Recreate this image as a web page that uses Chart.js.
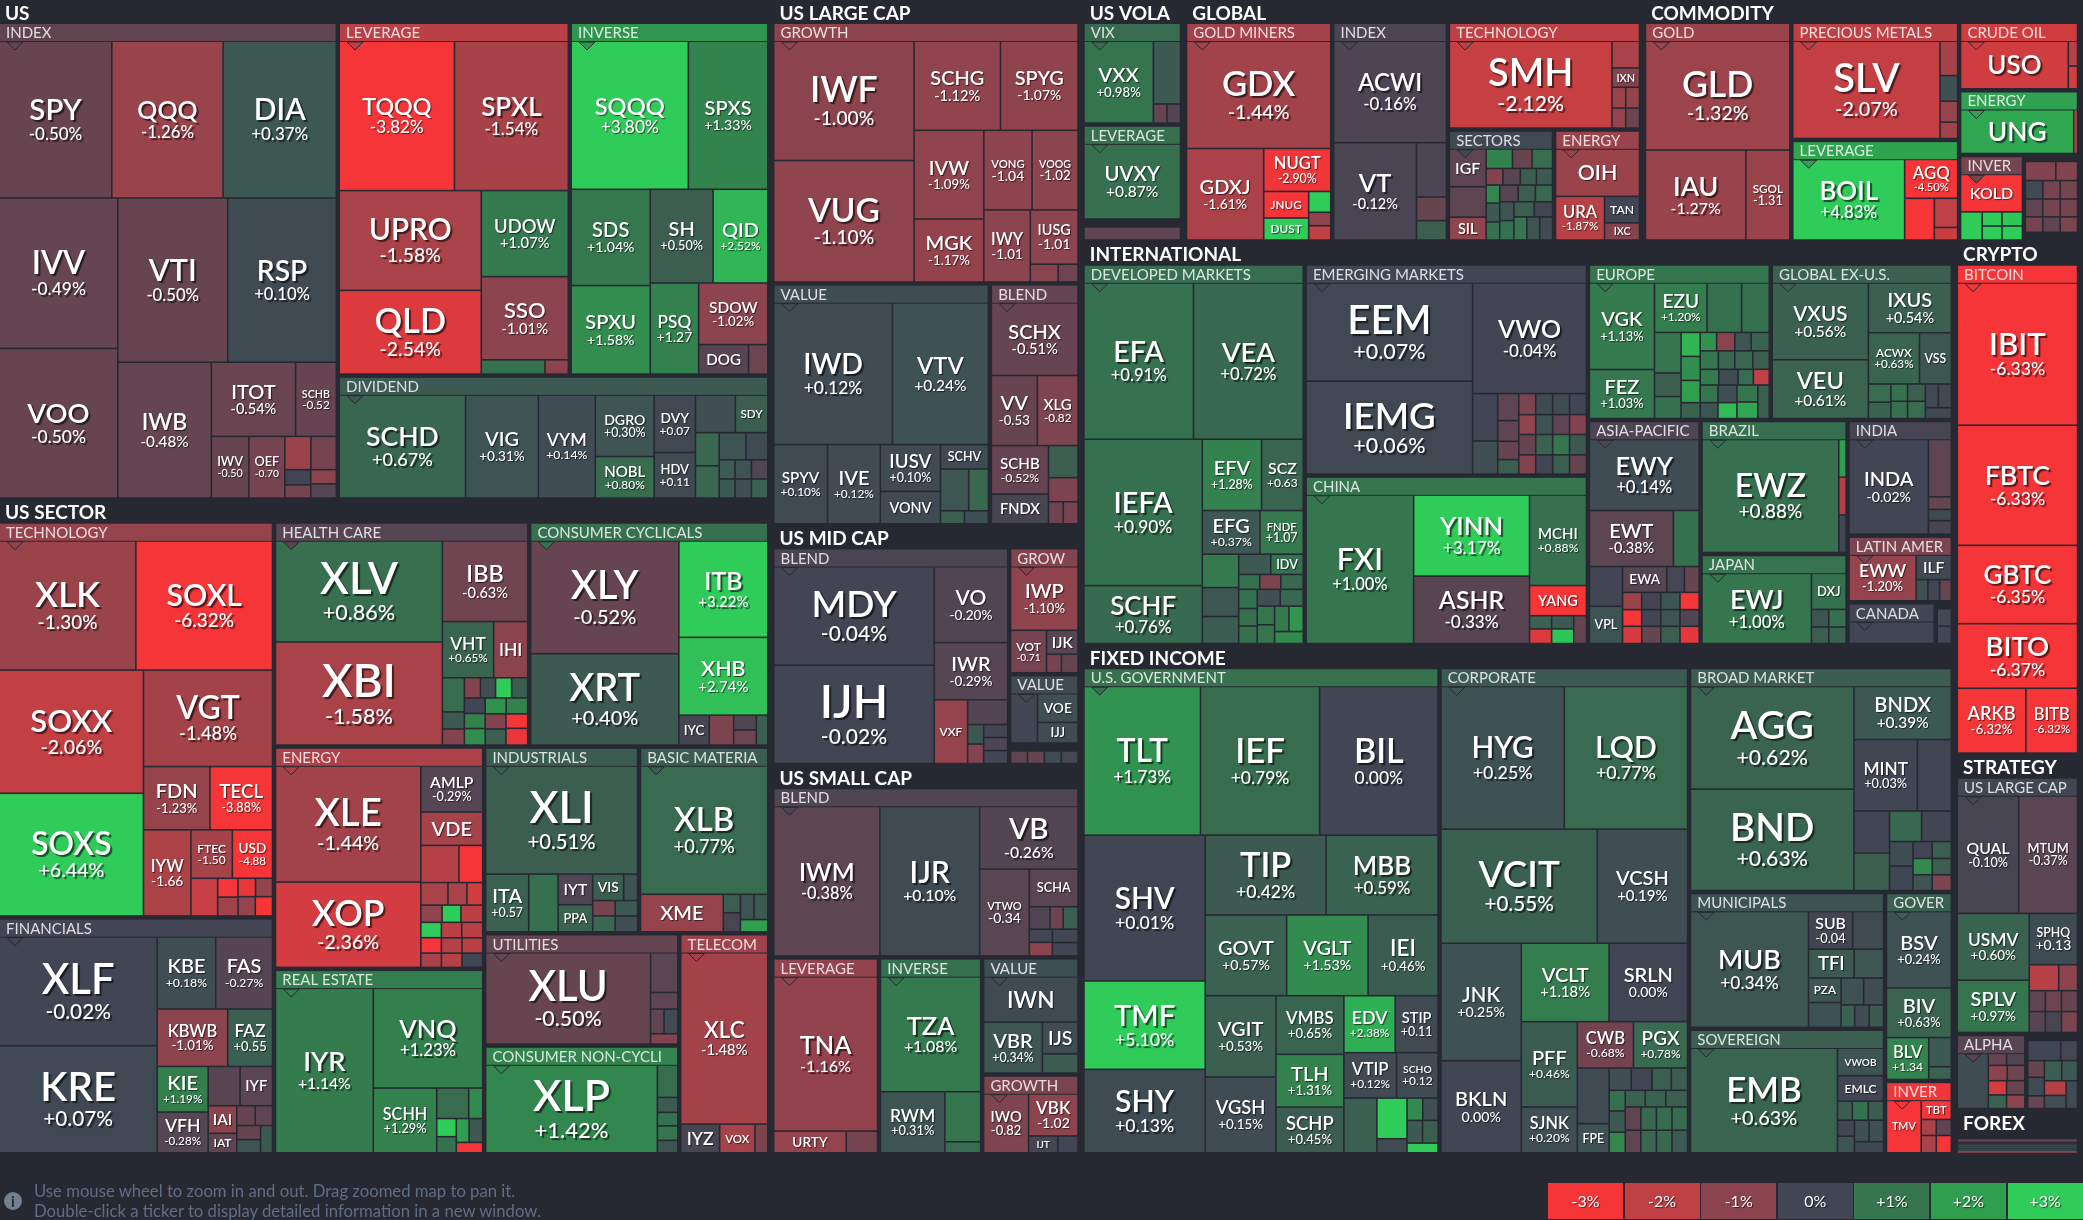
<!DOCTYPE html>
<html>
<head>
<meta charset="utf-8">
<title>ETF map</title>
<style>
  html, body { margin: 0; padding: 0; background: #262931; overflow: hidden; }
  #wrap { position: relative; width: 2083px; height: 1220px; font-family: Lato, sans-serif; }
  #myChart { position: absolute; left: 0; top: 0; }
  #note { position: absolute; left: 34px; top: 1181px; color: #5f6d87; font-size: 16.7px; line-height: 20px; white-space: nowrap; }
  #noteIcon { position: absolute; left: 4px; top: 1192px; width: 18px; height: 18px; border-radius: 50%; background: #74808f; color: #262931; font: bold 15px/18px Lato, sans-serif; text-align: center; }
  #legend { position: absolute; left: 1548px; top: 1183px; display: flex; gap: 1.6px; }
  #legend div { width: 75px; height: 36px; line-height: 36px; text-align: center; color: #fff; font-size: 16px; text-shadow: 1px 1px 1px rgba(0,0,0,.6); }
</style>
</head>
<body>
<div id="wrap">
  <canvas id="myChart" width="2083" height="1220"></canvas>
  <div id="noteIcon">i</div>
  <div id="note">Use mouse wheel to zoom in and out. Drag zoomed map to pan it.<br>Double-click a ticker to display detailed information in a new window.</div>
  <div id="legend"></div>
</div>
<script src="https://cdn.jsdelivr.net/npm/chart.js@4"></script>
<script>
const sectorNames = ["US", "US SECTOR", "US LARGE CAP", "US MID CAP", "US SMALL CAP", "US VOLA", "GLOBAL", "COMMODITY", "INTERNATIONAL", "FIXED INCOME", "CRYPTO", "STRATEGY", "FOREX"];
const sectorWeights = [3870.6, 5071, 1630.4, 743.8, 1207.6, 247.8, 1109.6, 1058.9, 3523.8, 4447.3, 647.4, 448.6, 55.8];
// a positive run is laid out as a row across the top, a negative one as a column at the left
const sectorRuns = [-2, -3, 3, -2, 1, 1, 1];

const sectorGroupRuns = [
  [-1, 2, 1],
  [-2, 2, -2, 2, -2, 1],
  [1, 2],
  [-1, 1, 1, 1],
  [1, -1, -1, 1, 1],
  [1, 1, 1],
  [-1, -1, 1, 2],
  [-1, -2, 1, 1, -1, -1],
  [-1, -2, 2, -1, -2, 1, 1, -1, -1],
  [-1, -1, 1, -2, 1, 1],
  [1],
  [1, -1, -1],
  [1]
];

const groupNames = [
  "INDEX", "LEVERAGE", "INVERSE", "DIVIDEND",
  "TECHNOLOGY", "FINANCIALS", "HEALTH CARE", "CONSUMER CYCLICALS", "ENERGY", "REAL ESTATE", "INDUSTRIALS", "BASIC MATERIA", "UTILITIES", "CONSUMER NON-CYCLI", "TELECOM",
  "GROWTH", "VALUE", "BLEND",
  "BLEND", "GROW", "VALUE", "",
  "BLEND", "LEVERAGE", "INVERSE", "VALUE", "GROWTH",
  "VIX", "LEVERAGE", "",
  "GOLD MINERS", "INDEX", "TECHNOLOGY", "SECTORS", "ENERGY",
  "GOLD", "PRECIOUS METALS", "LEVERAGE", "CRUDE OIL", "ENERGY", "INVER", "",
  "DEVELOPED MARKETS", "EMERGING MARKETS", "CHINA", "EUROPE", "GLOBAL EX-U.S.", "ASIA-PACIFIC", "BRAZIL", "JAPAN", "INDIA", "LATIN AMER", "CANADA", "",
  "U.S. GOVERNMENT", "CORPORATE", "BROAD MARKET", "MUNICIPALS", "SOVEREIGN", "GOVER", "INVER",
  "BITCOIN",
  "US LARGE CAP", "ALPHA", "",
  ""
];
const groupWeights = [
  1625, 821, 706, 535,
  1093, 654, 574, 540, 467, 389.5, 289, 243, 219, 212, 198.7,
  805, 527, 217,
  518, 89.7, 49.7, 14.5,
  524.6, 210.6, 203.5, 114.3, 77.8,
  102.8, 95.9, 21.05,
  323.6, 254.4, 208.3, 118.9, 97.4,
  323.4, 198.1, 170.2, 82, 77.5, 56, 47.6,
  847.9, 600.8, 480, 286.2, 285, 253.6, 197, 133.8, 121.7, 70.2, 37.7, 7.3,
  1743, 1218, 594.8, 268.5, 246.5, 128.3, 49.8,
  1,
  317, 53.6, 40.1,
  1
];

const leafRuns = [
  [3, -2, 2, -1, 2, -1, -1, 2, -2, 1, 1],
  [2, -2, 1, 1, -1, -1],
  [2, -2, 2, -1, 1, -1, -1],
  [-1, -1, -1, -2, -2, 2, -2, 2, -2, 2, -1, -1],
  [2, -2, 1, 2, -1, 2, -1, -2, 2, -1, -1],
  [-2, 2, 2, -2, 2, -2, 2, -2, -1],
  [-2, 1, 2, -3, 4, -3, 2, -2, 1, 1],
  [-2, 1, 1, -1, -1, -2, -1],
  [-2, 1, 1, 2, 3, 3, -3, 2, -2, 1, 1],
  [-1, 1, -1, 2, -2, 2, 1],
  [1, -1, -1, -2, 2, -2, 1, 1],
  [1, -1, -2, 2, 1],
  [-1, 1, 1, 2, 1],
  [-1, 1, 1, 1, 1, 1],
  [1, -1, -1, -1],
  [-2, 2, -2, 2, -1, 1, -1, -1],
  [2, -1, -1, -2, 1, 2, -1, -1],
  [1, 2, -2, 1, 1, -1, -1],
  [-2, 1, 1, -1, 1, -2, 1, 1, 1],
  [1, -1, 1, -1, -1],
  [-1, 1, 1],
  [-1, -1, -1, -1],
  [-1, -1, 1, -1, 1, 3, -2, -2],
  [1, -1, -1],
  [1, -1, 1, 1],
  [1, -1, 1, 1],
  [-1, 1, -1, -1],
  [-1, 1, -1, -1],
  [1],
  [1],
  [1, -1, 1, -2, 1, 1, 1],
  [1, -1, 1, 1, 1],
  [-1, 1, 1, 2, 2],
  [-3, 3, 4, -3, 3, -2, 2, -1, -1, -1],
  [1, -1, 1, 1],
  [1, -1, -1],
  [-1, 1, 1, 1, 1],
  [-1, 1, -1, 1, 1],
  [-1, 1, 1],
  [-1, -1],
  [1, -1, -2, 1, 1],
  [2, 3, 3, 3, 1],
  [2, -2, 2, 2, -3, 2, 3, -3, 2, -2, 2, 1],
  [-2, 1, -2, -4, 4, 4, 4, 4],
  [-1, -2, 1, 1, -2, -2, 1],
  [-2, 3, -3, -4, 4, 4, 4, -2, -2, -2, 1],
  [-2, 1, 2, -2, -2, -2, 2, 1],
  [1, 2, -2, 3, -3, -3, -3, -3],
  [-1, 1, 1, 1],
  [-1, 1, -2, 1, 1],
  [-1, 1, 1, 1, 1],
  [-1, 1, -1, -1, 1],
  [1],
  [1, 1],
  [3, -3, 2, 3, -2, -3, 2, 2, -1, -2, 2, 2, 1],
  [2, 2, -2, 2, -2, 2, -2, 4, -3, 3, -2, -2, -2, -2],
  [-2, 1, 2, -2, 2, -2, -3, -3],
  [-1, 2, 2, -2, 2, -1, -1, -1],
  [-1, 1, 1, 3, -2, 2, 1],
  [1, 1, -1, 1, 1],
  [-1, 1, -2, 1, 1],
  [1, 1, 1, 1, 2],
  [2, -2, 1, 2, 3, 3],
  [-1, 2, 2, 2, 2],
  [2, -3, 2, -2, 1],
  [-13]
];

// one line per group, same order in all three lists; "" is a cell too small to carry a ticker
const tickers = [
  "SPY","QQQ","DIA","IVV","VOO","VTI","RSP","IWB","ITOT","SCHB","IWV","OEF", "","","","","","",
  "TQQQ","SPXL","UPRO","QLD","UDOW","SSO", "","",
  "SQQQ","SPXS","SDS","SPXU","SH","QID","PSQ","SDOW","DOG", "",
  "SCHD","VIG","VYM","DGRO","NOBL","DVY","HDV", "","SDY", "","","","", "","","","", "","",
  "XLK","SOXL","SOXX","SOXS","VGT","FDN","TECL","IYW","FTEC","USD", "","","","", "","","",
  "XLF","KRE","KBE","FAS","KBWB","FAZ","KIE","VFH", "","IYF","IAI","IAT", "","","","","",
  "XLV","XBI","IBB","VHT","IHI", "","","","", "","","","", "","","","", "","","","",
  "XLY","XRT","ITB","XHB","IYC", "","","","",
  "XLE","XOP","AMLP","VDE", "","","","", "","","","", "","","","", "","","","", "",
  "IYR","VNQ","SCHH", "","","","", "","","",
  "XLI","ITA", "","IYT","PPA","VIS", "","","","","",
  "XLB","XME", "","","","","",
  "XLU", "","","","","",
  "XLP", "","","","","",
  "XLC","IYZ","VOX", "",
  "IWF","VUG","SCHG","SPYG","IVW","MGK","VONG","VOOG","IWY","IUSG", "","",
  "IWD","VTV","SPYV","IVE","IUSV","VONV","SCHV", "","","","",
  "SCHX","VV","XLG","SCHB","FNDX", "","","","",
  "MDY","IJH","VO","IWR","VXF", "","","", "","","",
  "IWP","VOT","IJK", "","",
  "","VOE","IJJ",
  "","","","",
  "IWM","IJR","VB","VTWO","SCHA", "","","","", "","","",
  "TNA","URTY", "",
  "TZA","RWM", "","",
  "IWN","VBR","IJS", "",
  "IWO","VBK","IJT", "",
  "VXX", "","","",
  "UVXY",
  "",
  "GDX","GDXJ","NUGT","JNUG","DUST", "","","",
  "ACWI","VT", "","","",
  "SMH", "","IXN", "","","","",
  "IGF","","SIL", "","","","", "","","","", "","","","", "","","","", "","","","",
  "OIH","URA","TAN","IXC",
  "GLD","IAU","SGOL",
  "SLV", "","","","",
  "BOIL","AGQ", "","","",
  "USO", "","",
  "UNG", "",
  "KOLD", "","","","","",
  "","","","", "","","","", "","","","",
  "EFA","VEA","IEFA","SCHF","EFV","SCZ","EFG","FNDF", "","","","","IDV", "","","","", "","","","", "","","","", "",
  "EEM","IEMG","VWO", "","","","", "","","","", "","","","", "","","","", "","","","", "","",
  "FXI","YINN","ASHR","MCHI","YANG", "","","","","",
  "VGK","FEZ","EZU", "","","","", "","","","", "","","","", "","","","", "","","","", "","","","", "","","","",
  "VXUS","VEU","IXUS","ACWX","VSS", "","","","", "","","","", "",
  "EWY","EWT", "","","VPL","EWA", "","","","", "","","","", "","","","", "","",
  "EWZ", "","","",
  "EWJ","DXJ", "","","","",
  "INDA", "","","","",
  "EWW","ILF", "","","",
  "",
  "","",
  "TLT","IEF","BIL","SHV","TMF","SHY","TIP","MBB","GOVT","VGLT","IEI","VGIT","VGSH","VMBS","TLH","SCHP","EDV","STIP","VTIP","SCHO", "","","","", "","","","",
  "HYG","LQD","VCIT","VCSH","JNK","BKLN","VCLT","SRLN","PFF","SJNK","CWB","PGX", "","FPE", "","","","", "","","","", "","","","", "","","","", "","",
  "AGG","BND","BNDX","MINT", "","","","", "","","","", "","","","", "",
  "MUB","SUB", "","TFI", "","PZA", "","","", "","","",
  "EMB","VWOB","EMLC", "","","","", "","","","",
  "BSV","BIV","BLV", "","",
  "TMV","TBT", "","","","",
  "IBIT","FBTC","GBTC","BITO","ARKB","BITB",
  "QUAL","MTUM","USMV","SPLV","SPHQ", "","","","", "","","","",
  "","","", "","","", "","","",
  "","","","", "","","","", "","",
  "","","","", "","","","", "","","","", ""
];
// daily change in percent; null leaves an empty gap in the map
const changes = [
  -0.50,-1.26,0.37,-0.49,-0.50,-0.50,0.10,-0.48,-0.54,-0.52,-0.50,-0.70,-1.3,-0.7,0,-0.7,-1.0,-0.3,
  -3.82,-1.54,-1.58,-2.54,1.07,-1.01,0.9,-1.0,
  3.80,1.33,1.04,1.58,0.50,2.52,1.27,-1.02,-0.3,-0.6,
  0.67,0.31,0.14,0.30,0.80,0.07,0.11,0.2,0.5,0.7,0.7,0.3,0.1,0.45,0.4,0.3,-0.2,0.2,0.6,
  -1.30,-6.32,-2.06,6.44,-1.48,-1.23,-3.88,-1.66,-1.50,-4.88,-2.1,-3.5,-1.4,-2.8,-1.2,-1.2,-3,
  -0.02,0.07,0.18,-0.27,-1.01,0.55,1.19,-0.28,-0.3,-0.35,-1.0,-0.4,-0.5,-0.4,-0.5,0.3,0.4,
  0.86,-1.58,-0.63,0.65,-1.0,0.8,0.4,-0.9,-0.9,0.2,3.0,0.5,0,1.3,1.6,1.7,1.3,-0.9,0.5,-3.5,-2.8,
  -0.52,0.40,3.22,2.74,-0.1,-0.8,-0.2,-0.6,0.5,
  -1.44,-2.36,-0.29,-1.5,-1.8,-3.5,-1.6,-1.6,-2.3,-1.1,3.0,-1.9,3.2,-3.5,-1.6,-1.9,-1.9,-1.8,-1.8,-1.9,0,
  1.14,1.23,1.29,0.8,1.5,3.2,0.9,2.0,0.4,-3.5,
  0.51,0.57,0.9,-0.2,0.6,0.5,0.3,-0.7,0.7,0.4,0.2,
  0.77,-1.2,0.5,-0.1,0.3,0.4,2.0,
  -0.50,-0.35,-0.4,-0.4,0.1,-0.9,
  1.42,0.8,0.4,0.9,1.0,0.3,
  -1.48,-0.1,-1.5,-0.8,
  -1.00,-1.10,-1.12,-1.07,-1.09,-1.17,-1.04,-1.02,-1.01,-1.01,-0.95,-0.6,
  0.12,0.24,0.10,0.12,0.10,0.1,0.1,0.35,0.7,0.5,0.2,
  -0.51,-0.53,-0.82,-0.52,-0.1,0.5,-0.8,-0.6,-0.7,
  -0.04,-0.02,-0.20,-0.29,-1.2,-0.25,0.35,-0.9,0,-0.2,0,
  -1.10,-0.71,-0.3,-0.7,-0.5,
  0,0.2,0.15,
  -0.4,-0.5,0.1,-0.05,
  -0.38,0.10,-0.26,-0.34,-0.35,-0.2,-0.6,0.5,0,-1,0,0,
  -1.16,-1.2,-0.7,
  1.08,0.31,1.0,0.8,
  0.1,0.34,0.15,0.45,
  -0.82,-1.02,-0.05,0,
  0.98,0.4,-0.5,-0.25,
  0.87,
  -0.4,
  -1.44,-1.61,-2.90,-3.2,3.3,3.1,-1.1,-2,
  -0.16,-0.12,-0.15,-0.5,0.5,
  -2.12,-1.6,-0.9,-1.3,-1.2,-1.2,-0.6,
  -0.4,-0.4,-1.1,1.3,-0.5,0.8,-0.9,-0.3,0.5,0.4,1.4,0.4,0.9,-0.3,0.5,0.7,0.3,0.9,0.5,0,1.0,0.3,0.1,
  -1.3,-1.87,0,-0.9,
  -1.32,-1.27,-1.31,
  -2.07,-1.5,0.2,-1.2,-1.4,
  4.83,-4.50,-3.5,-2.0,-2.2,
  -2.3,-1.9,-2.4,
  2.2,-2,
  -3.5,3.1,3.2,3.0,2.9,3.0,
  -0.9,-0.9,0.1,-0.7,-0.7,-0.4,-0.7,-0.7,-0.7,-0.4,-0.8,null,
  0.91,0.72,0.90,0.76,1.28,0.63,0.37,1.07,1.1,0.35,0.45,0.4,0.9,0.9,-0.8,0.7,0.9,0.85,0.9,0.2,0.7,1.0,1.0,1.1,1.8,1.5,
  0.07,0.06,-0.04,0,0.2,-0.4,-0.4,-0.5,0.5,-0.8,0.1,0.15,0,-1.1,0.3,-0.4,-0.9,-0.5,0.6,1.0,0.4,-0.9,0,0.5,-0.5,
  1.00,3.17,-0.33,0.88,-3.4,0.6,-2.5,0.4,2.9,-0.5,
  1.13,1.03,1.20,0.9,0.9,1.0,0.5,0.9,2.5,1.6,2.0,0.6,1.7,-1.0,0.3,0.6,1.0,0.7,0.7,0.5,1.1,0.1,0.8,-2.0,1.0,0.3,0.2,2.6,1.0,2.2,0.5,
  0.56,0.61,0.54,0.63,0.35,0.8,0.6,0.9,0.9,0.5,0.8,0.1,0.1,0.1,
  0.14,-0.38,0.9,0,0.3,-0.3,-0.05,-0.5,-1.3,-3.3,-2.4,0,0,-0.5,0.3,0.3,0.5,-3.2,-0.2,-2.7,
  0.88,2.0,-1.8,0,
  1.00,0.9,0.3,0.5,0.9,0.6,
  -0.02,-0.4,-0.5,0.1,-0.1,
  -1.20,0.1,0.2,0,-0.5,
  -0.02,
  0.1,0,
  1.73,0.79,0,0.01,5.10,0.13,0.42,0.59,0.57,1.53,0.46,0.53,0.15,0.65,1.31,0.45,2.38,0.11,0.12,0.12,0.55,3.0,0.1,1.5,0.2,0.4,0.5,3.1,
  0.25,0.77,0.55,0.19,0.25,0,1.18,0,0.46,0.20,-0.68,0.78,0.1,0.25,0.2,0,0.5,0.5,0.9,0.4,1.4,0.6,0.6,0.5,-0.4,-0.4,0.7,0.7,0.8,0.7,0.8,0.4,
  0.62,0.63,0.39,0.03,0,0,0.5,0.7,0,0.15,0.05,0,1.5,0.3,0.5,0.5,-0.8,
  0.34,-0.04,0.1,0.4,0.35,0.35,0.25,0.25,0.15,0.6,0.15,0.4,
  0.63,0.3,0,0.45,0.9,0.45,0,0.3,0.2,0.2,0.05,
  0.24,0.63,1.34,0.4,0.6,
  -3.4,-3.3,-1.6,-1.6,-0.4,-3.5,
  -6.33,-6.33,-6.35,-6.37,-6.32,-6.32,
  -0.10,-0.37,0.60,0.97,0.13,-1.8,-1,-0.4,-0.6,-0.5,-0.3,-0.1,-0.8,
  0.15,-0.5,-0.2,-1,-0.6,-2.4,-0.5,0.6,-1,
  0.05,-0.05,-0.5,0.1,-0.5,0.5,0.4,-1.8,0.2,0.1,
  -0.6,-0.5,0.2,null,0.3,0.3,-0.4,0,0.3,0.2,null,-2,-1.2
];
// share of its group that each fund takes on the map
const weights = [
  175,173,176,177,176,179,177,126,62,30,23,22,8.6,8.4,3.9,3.4,3.6,3.6,
  170,168,140,117.5,74,71.5,9,3.3,
  171,116,75,69,58,50.6,43.5,42,14.5,5.6,
  129,74.2,58.2,35.9,24.2,23.5,18.6,14.9,12.1,7.8,7.6,7.2,5.9,3,3,3.1,3.1,3.1,3.1,
  175,175,176.4,175.5,123.5,41.7,39.3,40.5,19.9,19.3,10,3.8,3.8,3.2,3.1,3.3,3.3,
  169.8,167,41.7,40.5,40,25.4,23,20.5,12.4,12.6,7.8,5.5,3.6,3.4,3.3,3.1,3.2,
  166.4,169.9,67.9,28.4,18.9,7.4,3.7,3.5,3.2,3,3.2,3.2,3.2,3.1,3.4,3.3,3.4,3.1,3.3,3.1,3.6,
  165.4,134,84.8,68.5,9,7.2,3.3,3.4,3.4,
  166,122,28,20.3,13.9,8.7,6,4.2,3.5,3.6,3.2,3.7,3.1,3.1,2.9,3.1,3.2,3.1,2.9,3.1,2.9,
  158.4,107.4,40.4,9.6,4.2,3.5,3.1,3,3.2,2.7,
  161.3,24.4,16.6,10.4,9.2,8,3.6,3.4,3.5,3.4,3.5,
  160.4,30.5,3.1,3.2,3.4,3.4,3.3,
  149.9,10.8,4.5,3.3,3.4,2.8,
  147.6,6.5,3,2.7,2.9,2.5,
  145.5,10.9,9.9,3.6,
  166,169,76.3,68.5,61.3,43.5,38,36.3,33.2,25.7,4.9,3.5,
  166.7,134.8,42.2,41.6,27.9,19.3,11.6,11.7,8.2,3.1,3.1,
  61.8,31.7,28.1,27.2,16.7,9.3,7,3.2,3.2,
  156.5,156.5,55.2,41.6,21.1,9.8,3.1,3.1,3.1,3.1,3.1,
  41.9,14.9,7.4,2.7,3,
  13,11.4,8.2,
  1.9,1.9,1.9,1.9,
  156.8,147.3,60.9,42.6,18.1,4.6,2.9,3.3,3,3.1,3.4,3.4,
  158,15.5,6.7,
  113.9,38.9,17.7,3.9,
  41.9,29.3,11.1,6.7,
  26.4,20.7,4.9,3.4,
  54.6,16.4,2.5,2.5,
  1,
  1,
  151.7,69.3,28.2,11.7,9.7,4.5,2.9,3.1,
  112,79,15.9,6.9,5.7,
  138,7.2,5.2,2.8,2.8,2.7,2.7,
  13.5,10.9,8.2,5,3.7,3.9,2.7,2.8,2.6,2.6,2.4,2.5,2.4,3,2.8,2.8,2.6,2.7,3,2.7,2.9,2.9,2.9,
  39,21,9.1,5.9,
  154,88.6,38.8,
  139,5.9,4.4,3.6,2.8,
  88.8,20.3,12.2,6.7,2.9,
  48.9,2.2,2,
  47.6,1.6,
  22.5,5.9,2.7,2.7,2.8,2.8,
  5.6,4,3.1,3.1,3.1,3,3,3,2.6,2.6,2.6,3.85,
  168.8,169.3,170.9,67.7,41.7,29.3,24.9,18.6,12,10.4,9.7,6.4,6.5,3.1,3.1,3.3,3.5,3.2,3.2,3.8,3.8,3.2,3.2,3.6,3.6,3.4,
  160.8,152.1,123.9,11.7,8.2,5.6,4.3,3.8,3,3.5,3.5,3.5,3.5,3.3,3.3,3.3,3.3,3.4,3.4,3.4,3.4,3.2,3.2,3.2,3.2,
  158,93,77.3,51,17,2.9,3.2,2.9,3.2,3.5,
  54,30.6,24.9,16.4,13.1,10.3,6,5.6,4.4,4.4,4.1,2.9,2.9,3.2,2.9,3.2,3.2,2.9,3.2,2.9,2.8,2.9,2.3,2.4,3,2.7,3.2,2.9,3.4,3.3,3.7,
  71.9,55.1,40.3,25.5,15.9,4,3.6,2.8,2.8,3,3,3,3,2.75,
  75.6,45.7,14,12.8,12,11.1,4.4,3.7,3.2,3.1,3.2,3.2,3.1,3.2,3.2,3.1,3.2,3.2,3.1,3.2,
  151,2.7,2.7,2.7,
  75.2,12.2,3,2.8,3,2.8,
  73.1,12.8,2.8,2.5,3,
  29.7,8.4,2.4,2.4,2.4,
  1,
  2.1,2.1,
  172.4,176.2,175.2,175.9,106.6,100.7,95.9,88.9,65.4,65.4,56.2,57.2,53.3,39.6,35.6,30.9,29.1,24.3,23.8,18.7,18,12.2,4.2,3.5,3.4,3.5,3.5,3,
  174.8,174.8,177.2,102.4,93.8,73.5,68.4,61.2,47.5,25.5,25.8,24.9,17.6,9.2,4.9,4.6,4.3,3.6,3.3,3.4,3.3,3.3,3.4,3.6,3.6,3.5,3.6,3.5,3.6,3.5,3.6,3.5,
  166,163.9,51.2,44.8,24,14.8,13.2,9.7,9,5.7,5.7,3.2,3.1,3,3.2,3.1,3,
  135.2,16.5,11.5,13,8.4,7.9,8,6,5.3,3,3.2,3.2,
  152.4,12.6,11.6,2.8,3,2.9,2.7,2.8,3.1,3.1,3.2,
  48.2,31.3,17.2,6.4,2.8,
  17.4,5.5,2.3,2.5,2.3,2.5,
  168.2,142,92.6,76.4,43.7,32.9,
  70.8,67.6,47.1,36.9,24.3,7.5,4.8,3.3,3.3,3.3,3.3,3.3,3.3,
  16.5,2.1,2.1,2.8,2.6,2.5,2.5,2.4,2.4,
  6.3,3.2,2.6,2.9,2,3.3,3,3,2.7,3,
  29.6,9.6,7.8,4,6.1,7.4,6.1,7.8,7,5.7,4,6.1,6.5
];
// tickers that are shown without their change even though the cell has room
const tickerOnly = ["KOLD", "IGF", "OIH"];
// narrow cells that still keep the percent sign
const keepPercent = ["URA"];
const legendSteps = [-3, -2, -1, 0, 1, 2, 3];

const bgColor = "#262931";
const colorStops = [[246, 53, 56], [191, 64, 69], [139, 68, 78], [65, 69, 84], [53, 118, 78], [47, 158, 79], [48, 204, 90]];

function colorFor(change) {
  const v = Math.max(-3, Math.min(3, change)) + 3;
  const i = Math.min(5, Math.floor(v));
  const t = v - i;
  const a = colorStops[i];
  const b = colorStops[i + 1];
  return "rgb(" + [0, 1, 2].map(k => Math.round(a[k] + (b[k] - a[k]) * t)).join(",") + ")";
}

function formatChange(change, withPercent) {
  const text = (change > 0 ? "+" : "") + change.toFixed(2);
  return withPercent ? text + "%" : text;
}

// splits a box into runs of boxes, each run taking the share of its weights
function splitBox(box, values, runs) {
  let left = box.x0, top = box.y0;
  const right = box.x1, bottom = box.y1;
  let remaining = values.reduce((s, v) => s + v, 0);
  const out = [];
  let idx = 0;
  runs.forEach(run => {
    const n = Math.abs(run);
    const part = values.slice(idx, idx + n);
    const sum = part.reduce((s, v) => s + v, 0);
    const share = sum / remaining;
    if (run > 0) {
      const h = (bottom - top) * share;
      let x = left;
      part.forEach(v => {
        const w = (right - left) * v / sum;
        out.push({ x0: x, y0: top, x1: x + w, y1: top + h });
        x += w;
      });
      top += h;
    } else {
      const w = (right - left) * share;
      let y = top;
      part.forEach(v => {
        const h = (bottom - top) * v / sum;
        out.push({ x0: left, y0: y, x1: left + w, y1: y + h });
        y += h;
      });
      left += w;
    }
    remaining -= sum;
    idx += n;
  });
  return out;
}

function grow(box, d) {
  return { x0: box.x0 - d, y0: box.y0 - d, x1: box.x1 + d, y1: box.y1 + d };
}

function buildMap() {
  const leaves = [];
  const labels = [];
  const sectorGap = 3.75, groupGap = 2.25, leafGap = 0.8;
  const titleHeight = 19, headerHeight = 18, blankHeader = 5;
  const root = { x0: -3.75, y0: 1.25, x1: 2080.5, y1: 1155.75 };
  const sectorBoxes = splitBox(root, sectorWeights, sectorRuns);
  let groupIdx = 0, leafIdx = 0;

  sectorBoxes.forEach((outer, s) => {
    const drawn = grow(outer, -sectorGap);
    labels.push({ kind: "title", text: sectorNames[s], x: drawn.x0, y: drawn.y0, x2: drawn.x1, y2: drawn.y0 + titleHeight });
    const content = grow({ x0: drawn.x0, y0: drawn.y0 + titleHeight, x1: drawn.x1, y1: drawn.y1 }, groupGap);
    const runs = sectorGroupRuns[s];
    const count = runs.reduce((c, r) => c + Math.abs(r), 0);
    const groupBoxes = splitBox(content, groupWeights.slice(groupIdx, groupIdx + count), runs);

    groupBoxes.forEach((gOuter, g) => {
      const gBox = grow(gOuter, -groupGap);
      const name = groupNames[groupIdx + g];
      const lRuns = leafRuns[groupIdx + g];
      const n = lRuns.reduce((c, r) => c + Math.abs(r), 0);
      const top = gBox.y0 + (name ? headerHeight : blankHeader);
      const area = grow({ x0: gBox.x0, y0: top, x1: gBox.x1, y1: gBox.y1 }, leafGap);
      const boxes = splitBox(area, weights.slice(leafIdx, leafIdx + n), lRuns);
      let total = 0, mean = 0;
      boxes.forEach((b, i) => {
        const k = leafIdx + i;
        if (changes[k] === null) return;
        total += weights[k];
        mean += weights[k] * changes[k];
        const c = grow(b, -leafGap);
        leaves.push({ kind: "leaf", x: c.x0, y: c.y0, x2: c.x1, y2: c.y1, ticker: tickers[k], change: changes[k] });
      });
      if (name) {
        labels.push({ kind: "header", text: name, x: gBox.x0, y: gBox.y0, x2: gBox.x1, y2: gBox.y0 + headerHeight - 1, change: mean / total });
      }
      leafIdx += n;
    });
    groupIdx += count;
  });
  return { leaves, labels };
}

function fitTicker(ctx, ticker, w) {
  ctx.font = "600 100px Lato";
  const unit = ctx.measureText(ticker).width / 100;
  const size = Math.max(w * 0.3535 / Math.sqrt(unit), Math.min(w * 0.72 / unit, 20));
  return Math.min(size, w * 0.8 / unit);
}

class CellElement extends Chart.Element {
  draw(ctx) {
    const w = this.x2 - this.x;
    const h = this.y2 - this.y;
    ctx.save();
    if (this.kind === "title") {
      ctx.font = "bold 19px Lato";
      ctx.fillStyle = "#ffffff";
      ctx.textBaseline = "alphabetic";
      ctx.fillText(this.text, this.x + 5, this.y + 14.5);
    } else if (this.kind === "header") {
      const color = colorFor(this.change);
      ctx.fillStyle = color;
      ctx.fillRect(this.x, this.y, w, h);
      ctx.beginPath();
      ctx.moveTo(this.x + 7, this.y2 + 1);
      ctx.lineTo(this.x + 15, this.y2 + 9);
      ctx.lineTo(this.x + 23, this.y2 + 1);
      ctx.closePath();
      ctx.fillStyle = color;
      ctx.fill();
      ctx.strokeStyle = bgColor;
      ctx.lineWidth = 1;
      ctx.stroke();
      ctx.save();
      ctx.beginPath();
      ctx.rect(this.x, this.y, w, h);
      ctx.clip();
      ctx.font = "15px Lato";
      ctx.fillStyle = "rgba(255,255,255,0.82)";
      ctx.fillText(this.text, this.x + 6, this.y + 14);
      ctx.restore();
    } else {
      ctx.fillStyle = colorFor(this.change);
      ctx.fillRect(this.x, this.y, w, h);
      if (this.ticker) this.drawLabel(ctx, w, h);
    }
    ctx.restore();
  }

  drawLabel(ctx, w, h) {
    const cx = this.x + w / 2;
    const cy = this.y + h / 2;
    let size = fitTicker(ctx, this.ticker, w);
    const oneLine = w < 34 || h < 36 || (h < 50 && size * 2 > h) || tickerOnly.includes(this.ticker);
    size = Math.min(size, h * (oneLine ? 0.68 : 0.5));
    ctx.textAlign = "center";
    ctx.fillStyle = "#ffffff";
    ctx.shadowColor = "rgba(0,0,0,0.6)";
    ctx.shadowBlur = 1;
    ctx.shadowOffsetX = size > 24 ? 2 : 1;
    ctx.shadowOffsetY = size > 24 ? 2 : 1;
    ctx.font = "600 " + size + "px Lato";
    if (oneLine) {
      ctx.fillText(this.ticker, cx, cy + size * 0.36);
      return;
    }
    const withPercent = w >= 49 || keepPercent.includes(this.ticker);
    const small = withPercent
      ? Math.min(7.5 + 0.085 * w, w * 0.25, h * 0.3)
      : Math.min(14, w * 0.3);
    const gap = size * 0.25;
    const block = size * 0.72 + gap + small * 0.72;
    const base = cy - block / 2 + size * 0.72;
    ctx.fillText(this.ticker, cx, base);
    ctx.font = "500 " + small + "px Lato";
    ctx.fillText(formatChange(this.change, withPercent), cx, base + gap + small * 0.72);
  }
}
CellElement.id = "cell";
CellElement.defaults = {};

class MapController extends Chart.DatasetController {
  update(mode) {
    const meta = this._cachedMeta;
    this.updateElements(meta.data, 0, meta.data.length, mode);
  }

  updateElements(elements, start, count) {
    const xScale = this._cachedMeta.xScale;
    const yScale = this._cachedMeta.yScale;
    const rows = this.getDataset().data;
    for (let i = start; i < start + count; i++) {
      const row = rows[i];
      Object.assign(elements[i], row, {
        x: xScale.getPixelForValue(row.x),
        y: yScale.getPixelForValue(row.y),
        x2: xScale.getPixelForValue(row.x2),
        y2: yScale.getPixelForValue(row.y2)
      });
    }
  }
}
MapController.id = "etfmap";
MapController.defaults = { datasetElementType: false, dataElementType: "cell" };

Chart.register(CellElement, MapController);

function createChart() {
  if (tickers.length !== changes.length || tickers.length !== weights.length) {
    throw new Error("lists differ " + tickers.length + " " + changes.length + " " + weights.length);
  }
  const map = buildMap();
  const ctx = document.getElementById("myChart");
  new Chart(ctx, {
    type: "etfmap",
    data: {
      datasets: [
        { label: "headers", data: map.labels, parsing: false },
        { label: "funds", data: map.leaves, parsing: false }
      ]
    },
    options: {
      responsive: false,
      animation: false,
      events: [],
      layout: { padding: 0 },
      plugins: { legend: { display: false }, tooltip: { enabled: false } },
      scales: {
        x: { type: "linear", min: 0, max: 2083, display: false },
        y: { type: "linear", min: 0, max: 1220, reverse: true, display: false }
      }
    }
  });

  const legend = document.getElementById("legend");
  legendSteps.forEach(step => {
    const cell = document.createElement("div");
    cell.style.background = colorFor(step);
    cell.textContent = (step > 0 ? "+" : "") + step + "%";
    legend.appendChild(cell);
  });
}

document.addEventListener("DOMContentLoaded", createChart);
</script>
</body>
</html>
